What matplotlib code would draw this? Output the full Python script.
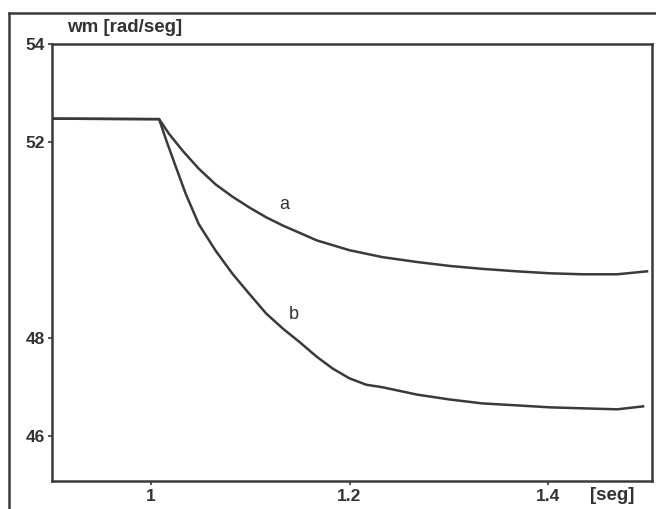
import matplotlib
matplotlib.use("Agg")
import matplotlib.pyplot as plt
from matplotlib.lines import Line2D
from matplotlib import font_manager

# ---- data ----
t_a = [0.90, 1.000, 1.008, 1.018, 1.032, 1.048, 1.065, 1.082, 1.099, 1.116,
       1.133, 1.149, 1.167, 1.200, 1.233, 1.268, 1.301, 1.334, 1.369, 1.402,
       1.435, 1.470, 1.500]
w_a = [52.47, 52.46, 52.46, 52.16, 51.81, 51.45, 51.13, 50.88, 50.66, 50.46,
       50.29, 50.15, 49.99, 49.79, 49.65, 49.55, 49.47, 49.41, 49.36, 49.32,
       49.30, 49.30, 49.36]

t_b = [0.90, 1.000, 1.008, 1.015, 1.025, 1.035, 1.048, 1.065, 1.082, 1.099,
       1.116, 1.133, 1.149, 1.167, 1.183, 1.200, 1.217, 1.233, 1.268, 1.301,
       1.334, 1.369, 1.402, 1.435, 1.470, 1.496]
w_b = [52.47, 52.46, 52.46, 52.04, 51.48, 50.93, 50.32, 49.78, 49.31, 48.90,
       48.50, 48.19, 47.93, 47.62, 47.38, 47.18, 47.05, 47.00, 46.85, 46.75,
       46.67, 46.63, 46.59, 46.57, 46.55, 46.61]

x_ticks = [1.0, 1.2, 1.4]
x_ticklabels = ["1", "1.2", "1.4"]
y_ticks = [46, 48, 52, 54]
y_ticklabels = ["46", "48", "52", "54"]

label_a = ("a", 1.134, 50.72)
label_b = ("b", 1.144, 48.49)

# ---- font ----
names = {f.name for f in font_manager.fontManager.ttflist}
fam = "Liberation Sans Narrow" if "Liberation Sans Narrow" in names else "Liberation Sans"
plt.rcParams['font.family'] = [fam, 'DejaVu Sans']

col = "#3a3a3a"
txtcol = "#333333"
fig = plt.figure(figsize=(6.56, 5.09), dpi=100)
W, H = 656, 509
ax = fig.add_axes([52 / W, 1 - 481 / H, 600 / W, (481 - 43.5) / H])

ax.plot(t_a, w_a, color=col, lw=1.8, solid_joinstyle='round')
ax.plot(t_b, w_b, color=col, lw=1.8, solid_joinstyle='round')

ax.set_xlim(0.9, 1.505)
ax.set_ylim(45.09, 53.94)

ax.set_xticks(x_ticks)
ax.set_xticklabels(x_ticklabels)
ax.set_yticks(y_ticks)
ax.set_yticklabels(y_ticklabels)
ax.tick_params(direction='out', length=3, width=1.2, color=col, labelcolor=txtcol,
               labelsize=12.5)
ax.tick_params(axis='x', pad=3)
ax.tick_params(axis='y', pad=2)
for lab in ax.get_xticklabels() + ax.get_yticklabels():
    lab.set_fontweight('bold')

for s in ax.spines.values():
    s.set_color(col)
    s.set_linewidth(1.8)

for txt, x, y in (label_a, label_b):
    ax.text(x, y, txt, fontsize=13, color=txtcol, ha='center', va='center')

fig.text(125 / W, 1 - 27 / H, "wm [rad/seg]", fontsize=13.5, fontweight='bold',
         color=txtcol, ha='center', va='center')
fig.text(612 / W, 1 - 496 / H, "[seg]", fontsize=13.5, fontweight='bold',
         color=txtcol, ha='center', va='center')

# outer frame
fig.add_artist(Line2D([9 / W, 9 / W], [0, 1 - 13 / H], transform=fig.transFigure,
                      color=col, lw=1.8))
fig.add_artist(Line2D([9 / W, 1], [1 - 13 / H, 1 - 13 / H], transform=fig.transFigure,
                      color=col, lw=1.8))

fig.savefig("out.png", dpi=100)
